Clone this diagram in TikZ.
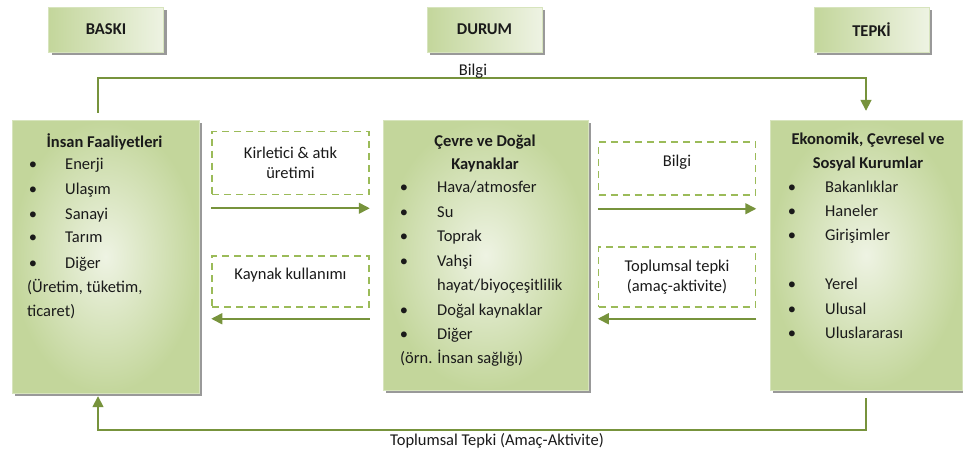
\documentclass[tikz,border=0pt]{standalone}
\usepackage{fontspec}
\setmainfont{Carlito}
\usetikzlibrary{arrows.meta,positioning,shadows}

\definecolor{kutukoyu}{HTML}{C3D69B}
\definecolor{kutuacik}{HTML}{EEF3E3}
\definecolor{kutucizgi}{HTML}{D7E4BD}
\definecolor{hatyesil}{HTML}{77933C}
\definecolor{kesikyesil}{HTML}{9BBB59}
\definecolor{metin}{HTML}{1A1A1A}

\tikzset{
  golge/.style={drop shadow={shadow xshift=3pt,shadow yshift=-3pt,fill=black!40,opacity=1}},
  baslik/.style={golge,draw=kutucizgi,left color=kutukoyu,right color=kutuacik,
    minimum width=115pt,minimum height=45pt,inner sep=0pt,font=\bfseries\fontsize{16.5}{20}\selectfont},
  kutu/.style={golge,draw=kutucizgi,inner color=kutuacik,outer color=kutukoyu,inner sep=0pt},
  kesikkutu/.style={draw=kesikyesil,line width=1.5pt,dash pattern=on 7pt off 5pt,
    minimum width=157pt,inner sep=0pt,align=center,font=\fontsize{16.5}{20}\selectfont},
  akis/.style={draw=hatyesil,line width=1.6pt},
  ok/.style={akis,-{Triangle[width=11pt,length=11pt]}},
  madde/.style={anchor=west,inner sep=0pt,text height=11pt,text depth=3pt},
  imi/.style={inner sep=0pt,text height=11pt,text depth=3pt},
  kbaslik/.style={align=center,inner sep=0pt,font=\bfseries\fontsize{16.5}{23.5}\selectfont}
}

\begin{document}
\begin{tikzpicture}[x=1pt,y=-1pt,font=\fontsize{16.5}{20}\selectfont,text=metin]
\useasboundingbox (0,0) rectangle (963,456);

% basliklar
\node[baslik] (baski) at (106,29.5) {BASKI};
\node[baslik] (durum) at (484.5,29.5) {DURUM};
\node[baslik] (tepki) at (871.5,29.5) {TEPKİ};

% ana kutular
\node[kutu,minimum width=187pt,minimum height=273pt] (insan) at (105.5,256.5) {};
\node[kutu,minimum width=205pt,minimum height=270pt] (cevre) at (485.5,255) {};
\node[kutu,minimum width=192pt,minimum height=270pt] (kurum) at (866,255) {};

% insan faaliyetleri
\node[kbaslik] (insanbaslik) at (104.5,142) {İnsan Faaliyetleri};
\foreach \y/\t in {165/Enerji,190/Ulaşım,215/Sanayi,238/Tarım,264/Diğer}
{
  \node[imi] at (33,\y) {\textbullet};
  \node[madde] at (65,\y) {\t};
}
\node[madde] (uretim) at (27,288) {(Üretim, tüketim,};
\node[madde] (ticaret) at (27,312) {ticaret)};

% cevre ve dogal kaynaklar
\node[kbaslik] (cevrebaslik) at (485,153.5) {Çevre ve Doğal\\Kaynaklar};
\foreach \y/\t in {188/Hava\slash atmosfer,213/Su,237/Toprak,262/Vahşi,311/Doğal kaynaklar,335/Diğer}
{
  \node[imi] at (404,\y) {\textbullet};
  \node[madde] at (437,\y) {\t};
}
\node[madde] (hayat) at (437,286) {hayat/biyoçeşitlilik};
\node[madde] (saglik) at (400,359) {(örn. İnsan sağlığı)};

% kurumlar
\node[kbaslik] (kurumbaslik) at (868,152) {Ekonomik, Çevresel ve\\Sosyal Kurumlar};
\foreach \y/\t in {188/Bakanlıklar,212/Haneler,236/Girişimler,285/Yerel,310/Ulusal,334/Uluslararası}
{
  \node[imi] at (792,\y) {\textbullet};
  \node[madde] at (825,\y) {\t};
}

% ara kutular
\node[kesikkutu,minimum height=63pt] (kirletici) at (290.5,163) {Kirletici \& atık\\üretimi};
\node[kesikkutu,minimum height=51pt,text depth=14.5pt] (kaynak) at (290.5,281.5) {Kaynak kullanımı};
\node[kesikkutu,minimum height=53pt,text depth=14.5pt] (bilgi) at (677,168.5) {Bilgi};
\node[kesikkutu,minimum height=60pt] (toplumsal) at (677,277) {Toplumsal tepki\\(amaç-aktivite)};

% oklar
\draw[ok] ([yshift=-13pt]kirletici.south west) -- ([yshift=-13pt]kirletici.south east);
\draw[ok] ([yshift=-11pt]kaynak.south east) -- ([yshift=-11pt]kaynak.south west);
\draw[ok] ([yshift=-13pt]bilgi.south west) -- ([yshift=-13pt]bilgi.south east);
\draw[ok] ([yshift=-11pt]toplumsal.south east) -- ([yshift=-11pt]toplumsal.south west);

% dis donguler
\draw[ok,shorten <=7pt,shorten >=9pt] ([xshift=-7.5pt]insan.north) -- ++(0,-42) -| (kurum.north);
\node[inner sep=1pt] (bilgiust) at (473,71) {Bilgi};
\draw[ok] ([yshift=-8pt]kurum.south) -- ++(0,32) -| ([xshift=-7.5pt,yshift=-3pt]insan.south);
\node[inner sep=1pt] (toptepki) at (497,441) {Toplumsal Tepki (Amaç-Aktivite)};
\end{tikzpicture}
\end{document}
